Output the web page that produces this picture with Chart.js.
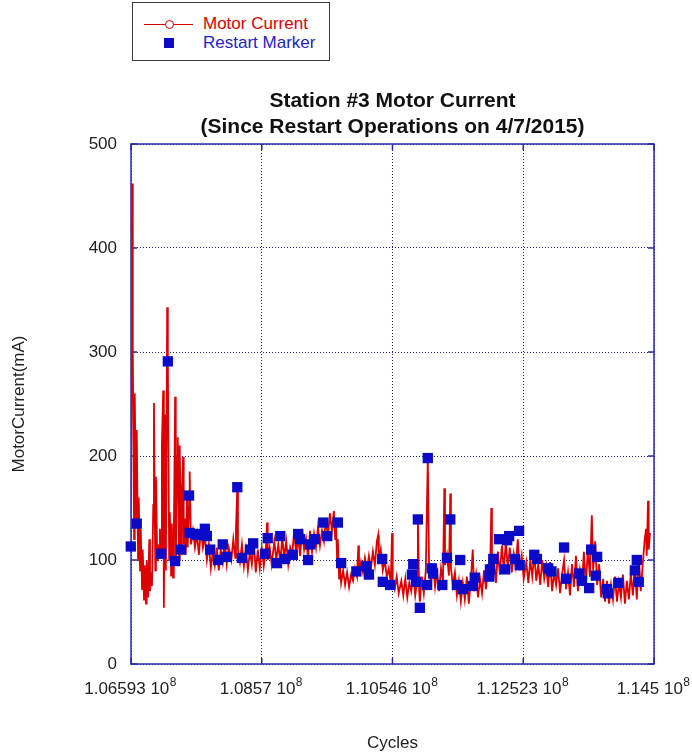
<!DOCTYPE html>
<html>
<head>
<meta charset="utf-8">
<title>Station #3 Motor Current</title>
<script src="https://cdn.jsdelivr.net/npm/chart.js@4.4.1/dist/chart.umd.min.js"></script>
<style>
  body { margin: 0; background: #fff; font-family: "Liberation Sans", Arial, sans-serif; }
  #wrap { position: relative; width: 692px; height: 756px; }
  #legend { position: absolute; left: 132px; top: 2px; width: 196px; height: 57px; border: 1px solid #3a3a3a; background: #fff; z-index: 2; }
  .key-line { position: absolute; left: 11px; top: 21px; width: 49px; border-top: 1.5px solid #d80000; }
  .key-circle { position: absolute; left: 32px; top: 17px; width: 7px; height: 7px; border: 1.5px solid #d80000; border-radius: 50%; background: #fff; }
  .key-square { position: absolute; left: 31px; top: 35px; width: 10px; height: 10px; background: #0a0ac8; }
  .key-text { position: absolute; left: 70px; font-size: 17px; line-height: 20px; white-space: nowrap; }
</style>
</head>
<body>
<div id="wrap">
  <div id="legend">
    <div class="key-line"></div>
    <div class="key-circle"></div>
    <div class="key-text" style="top: 11px; color: #d80000;">Motor Current</div>
    <div class="key-square"></div>
    <div class="key-text" style="top: 30px; color: #2222c8;">Restart Marker</div>
  </div>
  <canvas id="motorChart" width="692" height="756"></canvas>
</div>
<script>
// cycles in millions, current in mA
const motorCycles = [
  106.59, 106.61, 106.62, 106.64, 106.65, 106.67, 106.68, 106.70, 106.71, 106.73,
  106.74, 106.76, 106.77, 106.79, 106.80, 106.82, 106.83, 106.85, 106.87, 106.88,
  106.90, 106.91, 106.93, 106.94, 106.96, 106.97, 106.99, 107.00, 107.02, 107.03,
  107.05, 107.06, 107.08, 107.09, 107.11, 107.12, 107.14, 107.15, 107.17, 107.18,
  107.20, 107.21, 107.23, 107.24, 107.26, 107.27, 107.29, 107.30, 107.32, 107.33,
  107.35, 107.36, 107.38, 107.39, 107.41, 107.42, 107.44, 107.45, 107.47, 107.48,
  107.50, 107.53, 107.56, 107.59, 107.62, 107.65, 107.68, 107.71, 107.74, 107.77,
  107.80, 107.83, 107.86, 107.89, 107.92, 107.95, 107.98, 108.01, 108.04, 108.07,
  108.11, 108.14, 108.17, 108.18, 108.20, 108.21, 108.24, 108.27, 108.30, 108.33,
  108.36, 108.39, 108.42, 108.45, 108.48, 108.51, 108.54, 108.57, 108.60, 108.63,
  108.65, 108.66, 108.69, 108.72, 108.76, 108.79, 108.82, 108.85, 108.88, 108.91,
  108.94, 108.97, 109.00, 109.03, 109.06, 109.09, 109.12, 109.15, 109.18, 109.21,
  109.24, 109.27, 109.30, 109.33, 109.36, 109.39, 109.42, 109.45, 109.48, 109.51,
  109.54, 109.57, 109.60, 109.63, 109.66, 109.68, 109.69, 109.71, 109.72, 109.74,
  109.75, 109.77, 109.80, 109.83, 109.86, 109.89, 109.92, 109.95, 109.98, 110.01,
  110.03, 110.04, 110.07, 110.10, 110.13, 110.16, 110.19, 110.22, 110.25, 110.28,
  110.31, 110.33, 110.34, 110.37, 110.40, 110.43, 110.46, 110.49, 110.52, 110.54,
  110.55, 110.58, 110.61, 110.64, 110.68, 110.71, 110.74, 110.77, 110.80, 110.83,
  110.86, 110.89, 110.92, 110.93, 110.95, 110.96, 110.99, 111.02, 111.05, 111.08,
  111.10, 111.13, 111.16, 111.19, 111.22, 111.25, 111.28, 111.31, 111.33, 111.34,
  111.37, 111.40, 111.42, 111.43, 111.46, 111.49, 111.52, 111.55, 111.58, 111.61,
  111.64, 111.67, 111.70, 111.73, 111.76, 111.78, 111.81, 111.84, 111.87, 111.90,
  111.93, 111.96, 111.99, 112.02, 112.04, 112.05, 112.08, 112.11, 112.14, 112.17,
  112.20, 112.23, 112.26, 112.29, 112.32, 112.35, 112.38, 112.41, 112.44, 112.47,
  112.50, 112.53, 112.57, 112.60, 112.63, 112.66, 112.69, 112.72, 112.75, 112.78,
  112.81, 112.84, 112.87, 112.90, 112.93, 112.96, 112.99, 113.02, 113.05, 113.08,
  113.11, 113.14, 113.17, 113.20, 113.23, 113.26, 113.29, 113.32, 113.35, 113.38,
  113.41, 113.44, 113.47, 113.50, 113.53, 113.56, 113.58, 113.61, 113.64, 113.67,
  113.70, 113.73, 113.76, 113.79, 113.82, 113.85, 113.88, 113.91, 113.94, 113.97,
  114.00, 114.03, 114.06, 114.09, 114.12, 114.15, 114.18, 114.21, 114.24, 114.27,
  114.30, 114.33, 114.36, 114.38, 114.39, 114.41, 114.42, 114.44
];

const motorCurrent = [
  113, 462, 300, 120, 260, 135, 225, 100, 160, 90,
  130, 72, 110, 62, 95, 58, 100, 64, 120, 70,
  88, 75, 153, 251, 90, 180, 100, 115, 105, 130,
  104, 210, 263, 54, 240, 90, 343, 290, 100, 146,
  85, 135, 83, 120, 257, 95, 200, 218, 100, 210,
  110, 160, 199, 115, 140, 105, 159, 112, 150, 185,
  115, 128, 112, 125, 105, 130, 112, 122, 100, 115,
  92, 108, 95, 112, 90, 110, 98, 118, 96, 112,
  100, 120, 102, 130, 170, 110, 98, 115, 94, 110,
  90, 108, 96, 118, 88, 110, 92, 112, 94, 108,
  136, 100, 112, 96, 118, 100, 115, 98, 122, 102,
  118, 96, 112, 105, 128, 106, 122, 104, 130, 110,
  120, 102, 128, 108, 125, 112, 132, 114, 128, 118,
  140, 122, 145, 128, 147, 120, 138, 100, 120, 82,
  95, 78, 90, 76, 88, 74, 86, 80, 92, 84,
  114, 86, 98, 88, 102, 90, 104, 92, 108, 95,
  118, 124, 96, 110, 90, 100, 84, 92, 78, 126,
  80, 72, 84, 68, 80, 66, 82, 64, 78, 70,
  88, 66, 80, 139, 70, 60, 84, 68, 90, 198,
  90, 78, 96, 74, 88, 70, 92, 80, 169, 95,
  105, 85, 164, 92, 76, 88, 66, 80, 60, 78,
  62, 84, 58, 80, 110, 70, 86, 64, 82, 68,
  90, 72, 96, 80, 150, 84, 100, 78, 108, 86,
  114, 90, 118, 92, 112, 88, 106, 94, 120, 90,
  104, 82, 98, 78, 100, 84, 106, 80, 96, 76,
  100, 82, 94, 74, 98, 70, 88, 76, 92, 68,
  86, 100, 72, 88, 66, 96, 74, 104, 70, 90,
  76, 108, 74, 112, 84, 143, 90, 118, 76, 96,
  64, 82, 60, 80, 58, 76, 62, 84, 60, 78,
  64, 86, 58, 80, 62, 88, 66, 94, 62, 104,
  70, 96, 120, 130, 104, 157, 110, 126
];

const restartCycles = [
  106.59, 106.68, 107.05, 107.15, 107.26, 107.35, 107.47, 107.48, 107.56, 107.60,
  107.71, 107.74, 107.79, 107.91, 107.98, 108.04, 108.20, 108.27, 108.39, 108.44,
  108.62, 108.66, 108.80, 108.85, 108.92, 109.04, 109.12, 109.15, 109.27, 109.30,
  109.37, 109.50, 109.56, 109.72, 109.77, 110.00, 110.15, 110.19, 110.39, 110.40,
  110.51, 110.84, 110.86, 110.90, 110.93, 110.96, 111.07, 111.08, 111.14, 111.16,
  111.30, 111.37, 111.42, 111.52, 111.57, 111.61, 111.76, 111.79, 112.01, 112.02,
  112.07, 112.16, 112.25, 112.28, 112.31, 112.40, 112.46, 112.47, 112.69, 112.73,
  112.90, 112.95, 113.14, 113.17, 113.37, 113.41, 113.52, 113.55, 113.62, 113.64,
  113.79, 113.80, 113.96, 114.21, 114.24, 114.27
];

const restartCurrent = [
  113, 135, 106, 291, 99, 110, 162, 126, 125, 124,
  130, 123, 110, 100, 115, 103, 170, 102, 110, 116,
  106, 121, 97, 123, 101, 105, 125, 120, 100, 115,
  120, 136, 123, 136, 97, 89, 94, 86, 101, 79,
  76, 86, 96, 79, 139, 54, 76, 198, 92, 87,
  76, 102, 139, 76, 100, 72, 75, 83, 84, 91,
  101, 120, 91, 119, 123, 101, 128, 95, 105, 101,
  92, 89, 112, 82, 87, 80, 73, 110, 85, 103,
  72, 68, 78, 90, 100, 79
];

const xTickValues = [106.593, 108.570, 110.546, 112.523, 114.500];
const xTickLabels = ["1.06593 10", "1.0857 10", "1.10546 10", "1.12523 10", "1.145 10"];
const xTickExponent = "8";
const yTickValues = [0, 100, 200, 300, 400, 500];
const titleLines = ["Station #3 Motor Current", "(Since Restart Operations on 4/7/2015)"];

const FONT = '"Liberation Sans", Arial, sans-serif';
const TICK_SIZE = 17;
const X_TICK_PAD = 15;
Chart.defaults.font.family = FONT;

const motorPoints = motorCycles.map((x, i) => ({ x, y: motorCurrent[i] }));
const restartPoints = restartCycles.map((x, i) => ({ x, y: restartCurrent[i] }));

// plot frame with short inward ticks
const framePlugin = {
  id: "frame",
  beforeDatasetsDraw(chart) {
    const { ctx, chartArea: a, scales } = chart;
    ctx.save();
    ctx.strokeStyle = "#2b2ba6";
    ctx.lineWidth = 1.5;
    ctx.strokeRect(a.left, a.top, a.right - a.left, a.bottom - a.top);
    ctx.beginPath();
    scales.x.ticks.forEach((t) => {
      const px = scales.x.getPixelForValue(t.value);
      ctx.moveTo(px, a.bottom);
      ctx.lineTo(px, a.bottom - 6);
      ctx.moveTo(px, a.top);
      ctx.lineTo(px, a.top + 6);
    });
    scales.y.ticks.forEach((t) => {
      const py = scales.y.getPixelForValue(t.value);
      ctx.moveTo(a.left, py);
      ctx.lineTo(a.left + 6, py);
      ctx.moveTo(a.right, py);
      ctx.lineTo(a.right - 6, py);
    });
    ctx.stroke();
    ctx.restore();
  },
};

// two line title centred over the plot area, plus the raised exponent on x tick labels
const textPlugin = {
  id: "plotText",
  afterDraw(chart) {
    const { ctx, chartArea: a, scales } = chart;
    ctx.save();
    ctx.font = "bold 21px " + FONT;
    ctx.fillStyle = "#111";
    ctx.textAlign = "center";
    ctx.textBaseline = "middle";
    const cx = (a.left + a.right) / 2;
    titleLines.forEach((line, i) => ctx.fillText(line, cx, a.top - 43 + i * 26));

    // exponent sits in the en space reserved at the end of each label
    ctx.textAlign = "left";
    ctx.textBaseline = "top";
    ctx.fillStyle = "#222";
    scales.x.ticks.forEach((t, i) => {
      ctx.font = TICK_SIZE + "px " + FONT;
      const full = ctx.measureText(xTickLabels[i] + "\u2002").width;
      const gap = ctx.measureText("\u2002").width;
      const px = scales.x.getPixelForValue(t.value);
      ctx.font = "12px " + FONT;
      ctx.fillText(xTickExponent, px + full / 2 - gap + 0.5, a.bottom + X_TICK_PAD - 2);
    });
    ctx.restore();
  },
};

new Chart(document.getElementById("motorChart"), {
  type: "line",
  data: {
    datasets: [
      {
        label: "Restart Marker",
        data: restartPoints,
        showLine: false,
        pointStyle: "rect",
        pointRadius: 7.3,
        pointBorderWidth: 0,
        pointBackgroundColor: "#0a0ac8",
        clip: false,
        order: 0,
      },
      {
        label: "Motor Current",
        data: motorPoints,
        borderColor: "#dc0000",
        borderWidth: 1.8,
        pointRadius: 0,
        tension: 0,
        order: 1,
      },
    ],
  },
  options: {
    responsive: false,
    animation: false,
    events: [],
    layout: { padding: { top: 144, right: 38, bottom: 0, left: 0 } },
    plugins: {
      legend: { display: false },
      tooltip: { enabled: false },
      title: { display: false },
    },
    scales: {
      x: {
        type: "linear",
        min: xTickValues[0],
        max: xTickValues[xTickValues.length - 1],
        afterBuildTicks: (s) => { s.ticks = xTickValues.map((v) => ({ value: v })); },
        afterFit: (s) => { s.height = 92; s.paddingLeft = 0; s.paddingRight = 0; },
        ticks: {
          autoSkip: false,
          maxRotation: 0,
          padding: X_TICK_PAD,
          color: "#222",
          font: { size: TICK_SIZE },
          callback: (v, i) => xTickLabels[i] + "\u2002",
        },
        grid: { color: "#1c1c84", lineWidth: 1, drawTicks: false },
        border: { display: false, dash: [1, 2] },
        title: {
          display: true,
          text: "Cycles",
          color: "#222",
          font: { size: 17 },
          padding: { top: 0, bottom: 2 },
        },
      },
      y: {
        min: 0,
        max: 500,
        afterBuildTicks: (s) => { s.ticks = yTickValues.map((v) => ({ value: v })); },
        afterFit: (s) => { s.width = 131; s.paddingTop = 0; s.paddingBottom = 0; },
        ticks: { padding: 14, color: "#222", font: { size: TICK_SIZE } },
        grid: { color: "#1c1c84", lineWidth: 1, drawTicks: false },
        border: { display: false, dash: [1, 2] },
        title: {
          display: true,
          text: "MotorCurrent(mA)",
          color: "#222",
          font: { size: 17 },
          padding: { top: 9, bottom: 0 },
        },
      },
    },
  },
  plugins: [framePlugin, textPlugin],
});
</script>
</body>
</html>
